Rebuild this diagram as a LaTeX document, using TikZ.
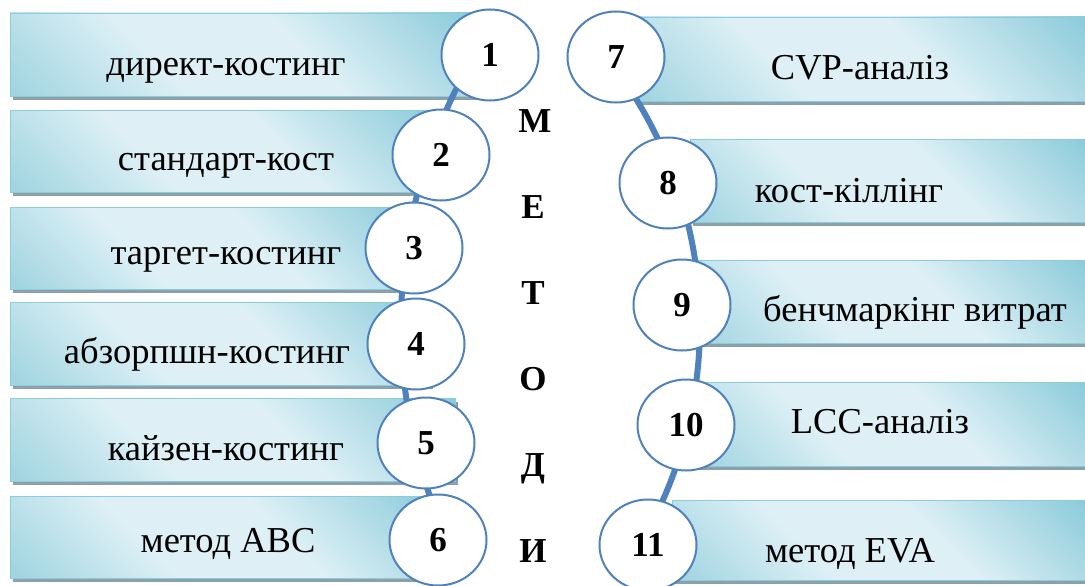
\documentclass[tikz,border=0pt]{standalone}
\usepackage{fontspec}
\setmainfont{Liberation Serif}
\usetikzlibrary{shapes.geometric}
\definecolor{arcblue}{RGB}{79,129,189}
\definecolor{boxdark}{RGB}{140,203,218}
\definecolor{boxlow}{RGB}{162,213,225}
\definecolor{boxlight}{RGB}{222,240,246}
\definecolor{boxedge}{RGB}{140,205,219}
\definecolor{boxshadow}{RGB}{140,160,168}
\pgfdeclareverticalshading{glossy}{100bp}{color(0bp)=(boxlow); color(16bp)=(boxlow);
  color(38bp)=(boxlight); color(58bp)=(boxlight); color(84bp)=(boxdark); color(100bp)=(boxdark)}
\begin{document}
\begin{tikzpicture}[x=1pt,y=-1pt,
  numcirc/.style={ellipse, draw=arcblue, line width=2pt, fill=white,
    minimum width=97pt, minimum height=91pt, inner sep=0pt,
    font=\fontsize{35}{38}\selectfont\bfseries},
  methtext/.style={anchor=base, inner sep=0pt, font=\fontsize{36.5}{40}\selectfont},
  vletter/.style={anchor=base, inner sep=0pt, font=\fontsize{35}{38}\selectfont\bfseries},
  bandbox/.style={draw=boxedge, line width=0.8pt, shading=glossy, shading angle=-45},
  boxshade/.style={fill=boxshadow},
  backbone/.style={draw=arcblue, line width=6pt}
]
\useasboundingbox (0,0) rectangle (1085,586);
% left boxes
\foreach \t/\r/\b in {13/480/96, 110/445/192, 207/418/289, 302/430/385, 398/455/481, 496/445/578}{
  \fill[boxshade] (13,\t+4) rectangle (\r+3,\b+4);
  \path[bandbox] (10,\t) rectangle (\r,\b);
}
% right boxes
\foreach \l/\t/\b in {635/17/101, 690/139/222, 690/260/343, 696/382/466, 672/500/580}{
  \fill[boxshade] (\l+3,\t+4) rectangle (1095,\b+4);
  \path[bandbox] (\l,\t) rectangle (1095,\b);
}
% backbone arcs
\draw[backbone] plot[domain=-32.5:27.2, samples=80] ({929-528*cos(\x)}, {324+528*sin(\x)});
\draw[backbone] plot[domain=-41.3:34.5, samples=80] ({268+432*cos(\x)}, {325+432*sin(\x)});
% circles
\node[numcirc] (c1) at (490,55) {1};
\node[numcirc] (c2) at (441,155) {2};
\node[numcirc] (c3) at (414,248) {3};
\node[numcirc] (c4) at (416,344) {4};
\node[numcirc] (c5) at (426,443) {5};
\node[numcirc] (c6) at (438,540) {6};
\node[numcirc] (c7) at (616,57) {7};
\node[numcirc] (c8) at (668,183) {8};
\node[numcirc] (c9) at (682,305) {9};
\node[numcirc] (c10) at (686,425) {10};
\node[numcirc] (c11) at (648,545) {11};
% texts
\node[methtext] (t1) at (226,76) {директ-костинг};
\node[methtext] (t2) at (226,170) {стандарт-кост};
\node[methtext] (t3) at (226,264) {таргет-костинг};
\node[methtext] (t4) at (207,363) {абзорпшн-костинг};
\node[methtext] (t5) at (226,460) {кайзен-костинг};
\node[methtext] (t6) at (228,552) {метод ABC};
\node[methtext] (t7) at (860,80) {CVP-аналіз};
\node[methtext] (t8) at (849,202) {кост-кіллінг};
\node[methtext] (t9) at (915,321) {бенчмаркінг витрат};
\node[methtext] (t10) at (880,433) {LCC-аналіз};
\node[methtext] (t11) at (850,562) {метод EVA};
% vertical word
\node[vletter] (m1) at (535,132) {М};
\node[vletter] (m2) at (533,218) {Е};
\node[vletter] (m3) at (533,304) {Т};
\node[vletter] (m4) at (533,390) {О};
\node[vletter] (m5) at (533,476) {Д};
\node[vletter] (m6) at (533,562) {И};
\end{tikzpicture}
\end{document}
